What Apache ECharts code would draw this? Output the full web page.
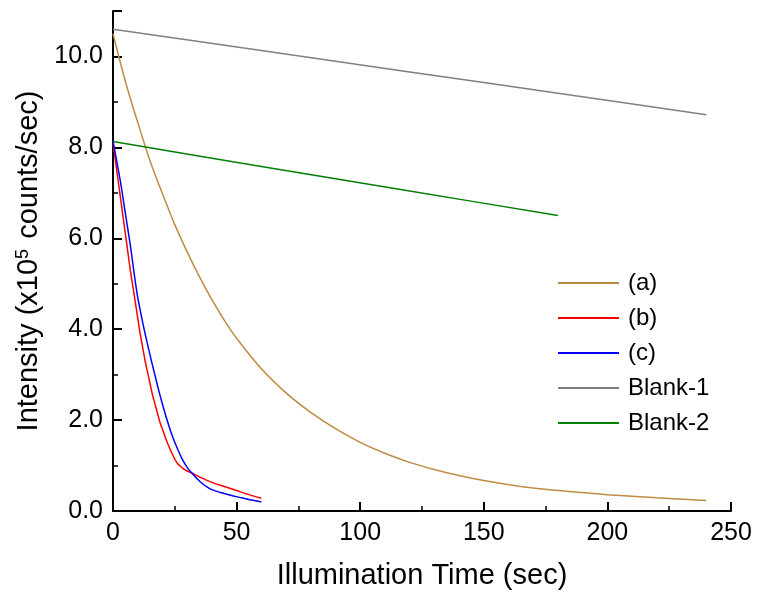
<!DOCTYPE html>
<html>
<head>
<meta charset="utf-8">
<script src="https://cdn.jsdelivr.net/npm/echarts@6/dist/echarts.min.js"></script>
<style>
html, body { margin: 0; padding: 0; background: #fff; }
#chart { width: 762px; height: 599px; }
</style>
</head>
<body>
<div id="chart"></div>
<script>
// values: [time (sec), intensity (x10^5 counts/sec)]
const seriesA = [[0, 10.5], [5, 9.45], [10, 8.55], [15, 7.7], [20, 6.98], [25, 6.3], [30, 5.7],
    [35, 5.15], [40, 4.65], [45, 4.2], [50, 3.8], [60, 3.13], [70, 2.6], [80, 2.17], [90, 1.81],
    [100, 1.51], [110, 1.27], [120, 1.07], [135, 0.84], [150, 0.67], [165, 0.54], [180, 0.45],
    [200, 0.36], [220, 0.29], [240, 0.23]];
const seriesB = [[0, 8.1], [1, 7.7], [2, 7.3], [3, 6.9], [4, 6.5], [5, 6.1], [6, 5.7], [7, 5.3],
    [8, 4.95], [9, 4.6], [10, 4.25], [11, 3.9], [12, 3.6], [13, 3.3], [14, 3.05], [15, 2.8],
    [16, 2.55], [17, 2.35], [18, 2.15], [19, 1.95], [20, 1.8], [22, 1.5], [24, 1.25], [26, 1.05],
    [28, 0.95], [30, 0.88], [32, 0.83], [35, 0.75], [40, 0.63], [45, 0.54], [50, 0.45],
    [55, 0.36], [60, 0.28]];
const seriesC = [[0, 8.15], [1, 7.85], [2, 7.55], [3, 7.25], [4, 6.9], [5, 6.55], [6, 6.2],
    [7, 5.85], [8, 5.45], [9, 5.05], [10, 4.7], [11, 4.42], [12, 4.15], [13, 3.9], [14, 3.66],
    [15, 3.43], [16, 3.2], [17, 2.98], [18, 2.76], [19, 2.55], [20, 2.35], [22, 1.98], [24, 1.65],
    [26, 1.38], [28, 1.14], [30, 0.96], [32, 0.83], [34, 0.71], [36, 0.61], [38, 0.53], [40, 0.47],
    [44, 0.4], [48, 0.34], [52, 0.29], [56, 0.24], [60, 0.2]];
const blank1 = [[0, 10.6], [60, 10.13], [120, 9.66], [180, 9.19], [240, 8.72]];
const blank2 = [[0, 8.13], [60, 7.58], [120, 7.04], [180, 6.5]];

const names = ['(a)', '(b)', '(c)', 'Blank-1', 'Blank-2'];
const colors = ['#C08A42', '#FF0000', '#0000FF', '#808080', '#008000'];
const allData = [seriesA, seriesB, seriesC, blank1, blank2];

const fontFam = 'Liberation Sans, Arial, sans-serif';

let myChart = echarts.init(document.getElementById('chart'));

myChart.setOption({
    animation: false,
    grid: {
        left: 113,
        right: 31,
        top: 11,
        bottom: 88
    },
    legend: {
        orient: 'vertical',
        left: 553,
        top: 266,
        icon: 'rect',
        itemWidth: 61,
        itemHeight: 2,
        itemGap: 11,
        textStyle: {
            fontFamily: fontFam,
            fontSize: 24,
            lineHeight: 24,
            color: '#000',
            padding: [0, 0, 0, 4]
        },
        data: names
    },
    xAxis: {
        type: 'value',
        min: 0,
        max: 250,
        interval: 50,
        name: 'Illumination Time (sec)',
        nameLocation: 'middle',
        nameGap: 50,
        nameTextStyle: { fontFamily: fontFam, fontSize: 29, color: '#000' },
        axisLine: { lineStyle: { color: '#000', width: 2 } },
        axisTick: { inside: true, length: 9, lineStyle: { color: '#000', width: 2 } },
        minorTick: { show: true, splitNumber: 2, length: 5, lineStyle: { color: '#000', width: 1.5 } },
        axisLabel: { fontFamily: fontFam, fontSize: 25, color: '#000', margin: 10 },
        splitLine: { show: false }
    },
    yAxis: {
        type: 'value',
        min: 0,
        max: 11,
        interval: 2,
        name: 'Intensity (x10{sup|5} counts/sec)',
        nameLocation: 'middle',
        nameGap: 68,
        nameTextStyle: {
            fontFamily: fontFam, fontSize: 29, color: '#000',
            rich: {
                sup: { fontFamily: fontFam, fontSize: 18, color: '#000', verticalAlign: 'top', padding: [0, 2, 12, 0] }
            }
        },
        axisLine: { lineStyle: { color: '#000', width: 2 } },
        axisTick: { inside: true, length: 9, lineStyle: { color: '#000', width: 2 } },
        minorTick: { show: true, splitNumber: 2, length: 5, lineStyle: { color: '#000', width: 1.5 } },
        axisLabel: {
            fontFamily: fontFam, fontSize: 25, color: '#000', margin: 10,
            formatter: function (v) { return v > 10 ? '' : v.toFixed(1); }
        },
        splitLine: { show: false }
    },
    series: names.map(function (n, i) {
        return {
            name: n,
            type: 'line',
            smooth: 0.3,
            symbol: 'none',
            itemStyle: { color: colors[i] },
            lineStyle: { color: colors[i], width: 1.5 },
            data: allData[i]
        };
    })
});
</script>
</body>
</html>
